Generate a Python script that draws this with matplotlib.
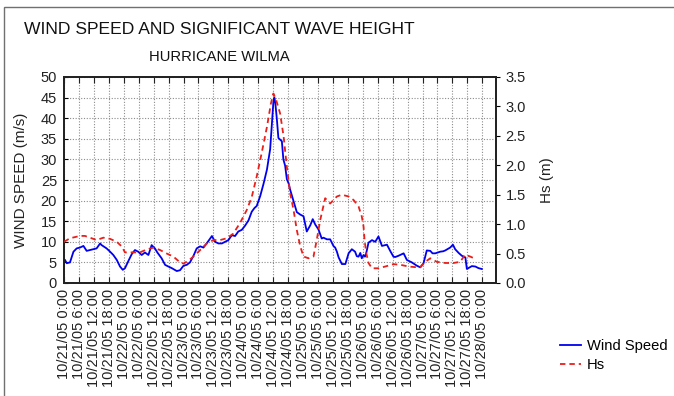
import matplotlib
matplotlib.use("Agg")
import matplotlib.pyplot as plt
from matplotlib.patches import Rectangle
from matplotlib.ticker import FuncFormatter, MultipleLocator, FixedLocator
import pandas as pd

# Hours after 10/21/05 0:00 and wind speed (m/s)
wind_hours = [0.0, 0.4, 1.1, 2.4, 3.8, 5.1, 6.4, 7.8, 9.1, 11.1, 13.1, 14.5, 15.1,
              17.1, 18.5, 19.8, 21.2, 22.5, 23.6, 24.5, 25.9, 27.2, 28.5, 29.8,
              31.2, 32.5, 33.9, 35.2, 36.5, 37.5, 39.2, 40.6, 41.9, 43.3, 45.3,
              46.6, 48.0, 49.3, 50.6, 52.0, 53.3, 54.7, 56.0, 57.3, 58.7, 59.4,
              60.7, 62.0, 63.4, 64.7, 66.0, 67.4, 68.7, 70.0, 71.4, 72.7, 74.1,
              75.4, 76.5, 77.4, 78.8, 80.1, 81.5, 82.8, 83.5, 84.1, 84.5, 84.9,
              85.5, 86.1, 87.5, 88.1, 88.8, 89.5, 90.2, 90.8, 92.2, 93.5, 94.9,
              96.2, 97.5, 98.9, 99.9, 100.9, 102.2, 103.5, 104.2, 105.6, 106.9,
              108.2, 108.9, 109.6, 110.3, 111.6, 113.0, 114.3, 115.6, 116.9,
              117.6, 118.3, 119.0, 119.6, 120.3, 120.9, 121.4, 122.3, 123.7,
              125.0, 126.3, 127.7, 129.7, 131.0, 132.3, 133.0, 134.3, 136.4,
              137.7, 139.7, 141.7, 143.1, 144.4, 145.7, 147.1, 148.0, 149.1,
              151.1, 152.3, 153.1, 155.1, 156.2, 157.1, 158.5, 159.8, 161.2,
              161.8, 163.8, 165.2, 166.5, 167.8]
wind_speed = [5.7, 5.6, 4.8, 5.0, 7.6, 8.4, 8.6, 9.0, 7.8, 8.1, 8.4, 9.6, 9.2,
              8.4, 7.6, 6.8, 5.6, 4.0, 3.2, 3.6, 5.4, 7.0, 8.0, 7.6,
              6.8, 7.4, 6.8, 9.2, 8.4, 7.4, 6.0, 4.4, 4.0, 3.6, 2.9,
              3.1, 4.2, 4.4, 5.0, 6.6, 8.4, 8.9, 8.6, 9.6, 10.8, 11.4,
              10.0, 9.6, 9.6, 10.0, 10.4, 11.6, 11.4, 12.5, 12.9, 13.9, 15.2,
              17.3, 18.2, 18.7, 21.1, 24.0, 27.5, 32.5, 38.5, 44.0, 45.0, 43.5,
              39.7, 35.2, 34.4, 30.0, 28.5, 25.2, 24.2, 22.7, 19.8, 17.2, 16.6,
              16.2, 12.5, 14.0, 15.5, 14.2, 13.0, 10.8, 11.0, 10.6, 10.6,
              9.0, 8.6, 7.6, 6.2, 4.6, 4.6, 7.2, 8.2, 7.6,
              6.5, 6.4, 7.3, 6.0, 6.8, 6.4, 7.3, 9.8, 10.4,
              10.0, 11.3, 9.0, 9.3, 7.8, 6.4, 6.3, 6.6, 7.2,
              5.6, 5.0, 4.2, 3.8, 4.8, 7.9, 7.8, 7.2, 7.2,
              7.6, 7.7, 7.9, 8.6, 9.3, 8.2, 7.3, 6.6, 6.2,
              3.4, 4.1, 4.0, 3.6, 3.4]

# Hours after 10/21/05 0:00 and significant wave height (m)
hs_hours = [0.0, 2.4, 6.4, 8.4, 11.1, 13.1, 15.8, 18.5, 21.2, 23.2, 24.5, 27.9,
            30.5, 33.2, 35.9, 38.6, 41.3, 43.9, 46.6, 48.0, 50.0, 52.0, 54.7,
            57.3, 60.0, 62.7, 65.4, 68.0, 70.7, 73.4, 75.4, 77.4, 79.4, 81.5,
            83.1, 84.1, 85.2, 86.8, 88.2, 89.5, 90.8, 92.2, 93.5, 94.9, 96.2,
            98.2, 100.2, 101.5, 102.9, 104.9, 106.9, 109.6, 111.6, 114.3,
            116.3, 118.3, 119.6, 120.3, 120.7, 121.4, 122.3, 123.7, 126.3,
            129.0, 132.3, 135.0, 138.4, 141.0, 143.1, 145.1, 147.1, 149.7,
            153.1, 156.4, 159.1, 161.1, 163.1, 165.2]
hs_m = [0.70, 0.76, 0.80, 0.80, 0.76, 0.73, 0.77, 0.75, 0.70, 0.62, 0.52, 0.52,
        0.52, 0.57, 0.60, 0.56, 0.50, 0.45, 0.35, 0.33, 0.38, 0.45, 0.56,
        0.67, 0.73, 0.73, 0.76, 0.84, 1.02, 1.24, 1.46, 1.81, 2.21, 2.65,
        3.05, 3.22, 3.11, 2.88, 2.49, 1.97, 1.53, 1.24, 0.90, 0.62, 0.45,
        0.42, 0.45, 0.73, 1.07, 1.44, 1.35, 1.47, 1.50, 1.47,
        1.41, 1.30, 1.13, 0.96, 0.73, 0.51, 0.34, 0.25, 0.25,
        0.28, 0.32, 0.31, 0.28, 0.27, 0.27, 0.36, 0.42, 0.36,
        0.34, 0.34, 0.36, 0.48, 0.45, 0.41]

# Axis ticks: every 6 hours from 10/21/05 0:00 to 10/28/05 0:00
tick_hours = list(range(0, 169, 6))
tick_times = pd.Timestamp("2005-10-21") + pd.to_timedelta(tick_hours, unit="h")
tick_labels = [f"{t.month}/{t.day}/{t:%y} {t.hour}:00" for t in tick_times]

plt.rcParams["font.family"] = ["Liberation Sans", "DejaVu Sans"]
TEXT = "#222222"

fig = plt.figure(figsize=(6.74, 3.96), dpi=100)
fig.patch.set_facecolor("white")

# outer frame, open to the right and bottom
fig.patches.append(Rectangle((4 / 674, -0.2), 1.2, 1.2 - 7 / 396,
                             transform=fig.transFigure, fill=False,
                             edgecolor="#707070", linewidth=1.0))

ax = fig.add_axes([64 / 674, 1 - 283 / 396, (496 - 64) / 674, (283 - 77) / 396])
ax2 = ax.twinx()

wind_line, = ax.plot(wind_hours, wind_speed, color="#0000ee", linewidth=1.3,
                     label="Wind Speed", zorder=3)
hs_line, = ax2.plot(hs_hours, hs_m, color="#e8201c", linewidth=1.3,
                    linestyle=(0, (3, 2.2)), label="Hs", zorder=3)

ax.set_xlim(0, 173.5)
ax.set_ylim(0, 50)
ax2.set_ylim(0, 3.5)

ax.xaxis.set_major_locator(FixedLocator(tick_hours))
ax.set_xticklabels(tick_labels, rotation=90, fontsize=10.5)
ax.yaxis.set_major_locator(MultipleLocator(5))
ax2.yaxis.set_major_locator(MultipleLocator(0.5))
ax2.yaxis.set_major_formatter(FuncFormatter(lambda v, p: f"{v:.1f}"))

ax.grid(True, color="#8c8c8c", linestyle=(0, (1, 1.5)), linewidth=0.8)
ax.set_axisbelow(True)

ax.tick_params(axis="x", direction="in", top=True, length=4, width=0.8,
               pad=4, colors=TEXT, labelcolor=TEXT)
ax.tick_params(axis="y", direction="in", length=3, width=0.8, labelsize=10.5,
               labelcolor=TEXT, pad=5)
ax2.tick_params(axis="y", direction="out", length=3, width=0.8, labelsize=10.5,
                labelcolor=TEXT, pad=4)

for a in (ax, ax2):
    for s in a.spines.values():
        s.set_linewidth(1.3)
        s.set_color(TEXT)

ax.set_ylabel("WIND SPEED (m/s)", fontsize=11, color=TEXT, labelpad=9)
ax2.set_ylabel("Hs (m)", fontsize=11, color=TEXT, rotation=90, labelpad=10)

fig.text(219 / 674, 1 - 30 / 396, "WIND SPEED AND SIGNIFICANT WAVE HEIGHT",
         ha="center", va="center", fontsize=12.6, color="#111111")
fig.text(219 / 674, 1 - 57 / 396, "HURRICANE WILMA",
         ha="center", va="center", fontsize=10.6, color="#111111")

fig.legend(handles=[wind_line, hs_line], loc="upper left",
           bbox_to_anchor=(560 / 674, 1 - 339 / 396), frameon=False,
           fontsize=10.6, handlelength=1.45, handletextpad=0.4,
           labelspacing=0.35, borderpad=0, borderaxespad=0)

fig.savefig("out.png", dpi=100, facecolor="white")
